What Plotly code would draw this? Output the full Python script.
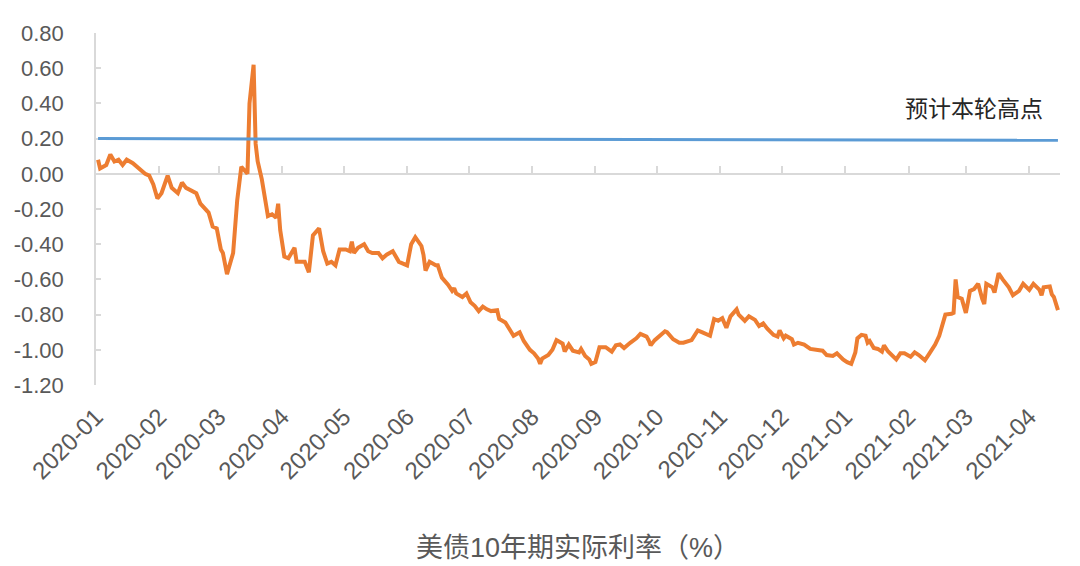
import plotly.graph_objects as go

# 美债10年期实际利率 (%)
dates = [
    "2020-01-02", "2020-01-03", "2020-01-06", "2020-01-08", "2020-01-10", "2020-01-12",
    "2020-01-14", "2020-01-16", "2020-01-19", "2020-01-21", "2020-01-25", "2020-01-27",
    "2020-01-29", "2020-01-31", "2020-02-02", "2020-02-05", "2020-02-07", "2020-02-10",
    "2020-02-12", "2020-02-14", "2020-02-18", "2020-02-19", "2020-02-21", "2020-02-24",
    "2020-02-25", "2020-02-27", "2020-02-29", "2020-03-02", "2020-03-03", "2020-03-05",
    "2020-03-08", "2020-03-10", "2020-03-12", "2020-03-15", "2020-03-16", "2020-03-18",
    "2020-03-19", "2020-03-20", "2020-03-22", "2020-03-24", "2020-03-25", "2020-03-27",
    "2020-03-29", "2020-03-30", "2020-03-31", "2020-04-02", "2020-04-04", "2020-04-07",
    "2020-04-08", "2020-04-12", "2020-04-14", "2020-04-16", "2020-04-19", "2020-04-21",
    "2020-04-23", "2020-04-25", "2020-04-27", "2020-04-29", "2020-05-02", "2020-05-04",
    "2020-05-05", "2020-05-06", "2020-05-08", "2020-05-11", "2020-05-13", "2020-05-15",
    "2020-05-18", "2020-05-20", "2020-05-22", "2020-05-25", "2020-05-28", "2020-06-01",
    "2020-06-03", "2020-06-05", "2020-06-08", "2020-06-09", "2020-06-10", "2020-06-12",
    "2020-06-15", "2020-06-16", "2020-06-18", "2020-06-21", "2020-06-23", "2020-06-24",
    "2020-06-25", "2020-06-28", "2020-06-30", "2020-07-02", "2020-07-04", "2020-07-06",
    "2020-07-08", "2020-07-10", "2020-07-12", "2020-07-15", "2020-07-16", "2020-07-19",
    "2020-07-21", "2020-07-23", "2020-07-26", "2020-07-28", "2020-07-31", "2020-08-02",
    "2020-08-04", "2020-08-05", "2020-08-06", "2020-08-09", "2020-08-11", "2020-08-13",
    "2020-08-16", "2020-08-17", "2020-08-19", "2020-08-21", "2020-08-24", "2020-08-25",
    "2020-08-27", "2020-08-29", "2020-08-30", "2020-09-01", "2020-09-03", "2020-09-06",
    "2020-09-09", "2020-09-11", "2020-09-13", "2020-09-15", "2020-09-18", "2020-09-21",
    "2020-09-23", "2020-09-26", "2020-09-27", "2020-09-28", "2020-09-30", "2020-10-02",
    "2020-10-05", "2020-10-06", "2020-10-09", "2020-10-12", "2020-10-14", "2020-10-18",
    "2020-10-21", "2020-10-23", "2020-10-27", "2020-10-29", "2020-10-31", "2020-11-02",
    "2020-11-04", "2020-11-06", "2020-11-09", "2020-11-10", "2020-11-13", "2020-11-15",
    "2020-11-18", "2020-11-20", "2020-11-22", "2020-11-24", "2020-11-27", "2020-11-29",
    "2020-11-30", "2020-12-02", "2020-12-03", "2020-12-06", "2020-12-07", "2020-12-09",
    "2020-12-12", "2020-12-15", "2020-12-18", "2020-12-21", "2020-12-23", "2020-12-26",
    "2020-12-28", "2020-12-31", "2021-01-02", "2021-01-04", "2021-01-06", "2021-01-07",
    "2021-01-09", "2021-01-11", "2021-01-12", "2021-01-13", "2021-01-15", "2021-01-17",
    "2021-01-19", "2021-01-20", "2021-01-22", "2021-01-24", "2021-01-26", "2021-01-28",
    "2021-01-30", "2021-02-02", "2021-02-04", "2021-02-06", "2021-02-09", "2021-02-11",
    "2021-02-14", "2021-02-16", "2021-02-18", "2021-02-19", "2021-02-22", "2021-02-23",
    "2021-02-24", "2021-02-25", "2021-02-27", "2021-03-01", "2021-03-02", "2021-03-03",
    "2021-03-05", "2021-03-07", "2021-03-09", "2021-03-10", "2021-03-11", "2021-03-14",
    "2021-03-15", "2021-03-17", "2021-03-19", "2021-03-22", "2021-03-24", "2021-03-27",
    "2021-03-29", "2021-03-31", "2021-04-01", "2021-04-03", "2021-04-04", "2021-04-06",
    "2021-04-07", "2021-04-08", "2021-04-11", "2021-04-12", "2021-04-13", "2021-04-15",
]
real_rate = [
    0.08, 0.03, 0.05, 0.11, 0.07, 0.08,
    0.05, 0.08, 0.06, 0.04, 0.00, -0.01,
    -0.06, -0.14, -0.11, -0.01, -0.08, -0.11,
    -0.05, -0.08, -0.10, -0.11, -0.17, -0.21,
    -0.22, -0.30, -0.31, -0.43, -0.45, -0.57,
    -0.45, -0.15, 0.04, 0.00, 0.40, 0.62,
    0.17, 0.07, -0.03, -0.17, -0.24, -0.23,
    -0.25, -0.17, -0.32, -0.47, -0.48, -0.42,
    -0.50, -0.50, -0.56, -0.35, -0.31, -0.44,
    -0.51, -0.50, -0.52, -0.43, -0.43, -0.44,
    -0.385, -0.45, -0.42, -0.40, -0.44, -0.45,
    -0.45, -0.48, -0.46, -0.44, -0.50, -0.52,
    -0.40, -0.36, -0.41, -0.46, -0.55, -0.50,
    -0.52, -0.52, -0.59, -0.63, -0.665, -0.65,
    -0.68, -0.70, -0.68, -0.73, -0.75, -0.78,
    -0.755, -0.77, -0.78, -0.775, -0.825, -0.845,
    -0.88, -0.92, -0.90, -0.95, -1.00, -1.02,
    -1.05, -1.08, -1.05, -1.03, -1.00, -0.945,
    -0.965, -1.01, -0.97, -1.005, -1.015, -0.995,
    -1.035, -1.055, -1.08, -1.07, -0.985, -0.985,
    -1.01, -0.975, -0.97, -0.99, -0.96, -0.935,
    -0.91, -0.925, -0.945, -0.975, -0.945, -0.925,
    -0.895, -0.90, -0.94, -0.96, -0.96, -0.945,
    -0.89, -0.90, -0.92, -0.825, -0.835, -0.82,
    -0.875, -0.81, -0.77, -0.80, -0.835, -0.81,
    -0.83, -0.865, -0.85, -0.88, -0.915, -0.925,
    -0.89, -0.935, -0.92, -0.94, -0.97, -0.96,
    -0.97, -0.995, -1.00, -1.005, -1.03, -1.035,
    -1.02, -1.055, -1.07, -1.08, -1.015, -0.935,
    -0.915, -0.92, -0.96, -0.95, -0.99, -0.995,
    -1.01, -0.975, -1.01, -1.035, -1.055, -1.02,
    -1.02, -1.04, -1.015, -1.03, -1.06, -1.025,
    -0.97, -0.92, -0.835, -0.80, -0.795, -0.79,
    -0.60, -0.70, -0.71, -0.79, -0.73, -0.665,
    -0.655, -0.625, -0.71, -0.74, -0.625, -0.645,
    -0.675, -0.565, -0.60, -0.645, -0.69, -0.665,
    -0.625, -0.65, -0.66, -0.625, -0.635, -0.66,
    -0.69, -0.645, -0.64, -0.685, -0.70, -0.775,
]

# 预计本轮高点
peak_dates = ["2020-01-02", "2021-04-15"]
peak_values = [0.20, 0.19]

y_ticks = [0.8, 0.6, 0.4, 0.2, 0.0, -0.2, -0.4, -0.6, -0.8, -1.0, -1.2]
y_labels = [f"{v:.2f}" for v in y_ticks]
x_range = ["2020-01-01", "2021-04-16"]

font_family = "Liberation Sans, Noto Sans CJK SC, sans-serif"
gray = "#595959"
axis_gray = "#d9d9d9"

fig = go.Figure()
fig.add_trace(go.Scatter(x=peak_dates, y=peak_values, mode="lines",
                         line=dict(color="#5b9bd5", width=3),
                         xaxis="x2", yaxis="y"))
fig.add_trace(go.Scatter(x=dates, y=real_rate, mode="lines",
                         line=dict(color="#ed7d31", width=4)))

# the page body keeps an 8px margin, so the figure is 8px smaller each way
fig.update_layout(
    width=1072, height=558,
    margin=dict(l=88, r=20, t=25, b=181, autoexpand=False),
    paper_bgcolor="white", plot_bgcolor="white",
    showlegend=False,
    font=dict(family=font_family, color=gray),
    # bottom axis: only the rotated month labels
    xaxis=dict(type="date", range=x_range, tick0="2020-01-01", dtick="M1",
               tickformat="%Y-%m", tickangle=-45, showline=False, showgrid=False,
               zeroline=False, ticks="", automargin=False, ticklabelstandoff=12,
               tickfont=dict(size=24, color=gray)),
    # axis line and tick marks sitting at y = 0
    xaxis2=dict(type="date", range=x_range, tick0="2020-01-01", dtick="M1",
                overlaying="x", anchor="free", position=0.6, side="bottom",
                showline=True, linecolor=axis_gray, linewidth=1.5,
                ticks="inside", ticklen=7, tickcolor=axis_gray, tickwidth=1.5,
                showticklabels=False, showgrid=False, zeroline=False,
                automargin=False, layer="below traces"),
    yaxis=dict(range=[-1.2, 0.8], tickvals=y_ticks, ticktext=y_labels,
               showline=True, linecolor=axis_gray, linewidth=1.5,
               ticks="inside", ticklen=5, tickcolor=axis_gray, tickwidth=1.5,
               showgrid=False, zeroline=False, ticklabelstandoff=26,
               automargin=False, tickfont=dict(size=22, color=gray),
               layer="below traces"),
)

fig.add_annotation(text="预计本轮高点", xref="paper", yref="y", x=0.911, y=0.37,
                   xanchor="center", showarrow=False,
                   font=dict(size=23, color="#262626"))
fig.add_annotation(text="美债10年期实际利率（%）", xref="paper", yref="paper",
                   x=0.5, y=-0.463, xanchor="center", yanchor="middle",
                   showarrow=False, font=dict(size=27, color=gray))

fig.write_html("out.html")
